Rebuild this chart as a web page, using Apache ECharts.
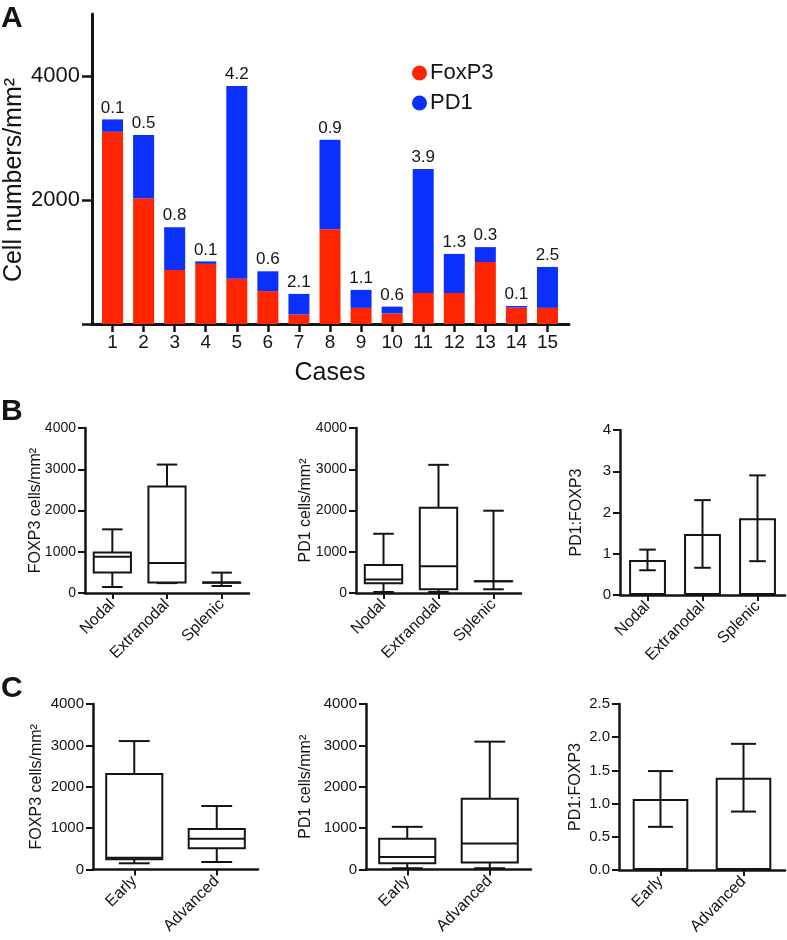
<!DOCTYPE html>
<html>
<head>
<meta charset="utf-8">
<script src="https://cdn.jsdelivr.net/npm/echarts@6/dist/echarts.min.js"></script>
<style>
html,body{margin:0;padding:0;background:#fff;}
#chart{width:787px;height:940px;}
</style>
</head>
<body>
<div id="chart"></div>
<script>
// ---------- Panel A data ----------
const cases = ['1','2','3','4','5','6','7','8','9','10','11','12','13','14','15'];
const foxp3Counts = [3100, 2030, 870, 970, 730, 530, 155, 1530, 260, 170, 500, 500, 1000, 265, 260];
const pd1Counts = [200, 1020, 690, 40, 3110, 320, 330, 1440, 290, 110, 2000, 630, 240, 25, 660];
const ratioLabels = ['0.1','0.5','0.8','0.1','4.2','0.6','2.1','0.9','1.1','0.6','3.9','1.3','0.3','0.1','2.5'];
const yTicksA = [0, 2000, 4000];
const yLabelsA = [2000, 4000];

// ---------- Panel B data ----------
const sites = ['Nodal', 'Extranodal', 'Splenic'];
// [min, q1, median, q3, max]
const foxp3BySite = [
  [146, 496, 876, 983, 1543],
  [240, 253, 730, 2579, 3114],
  [170, 250, 252, 254, 494]
];
const pd1BySite = [
  [24, 236, 326, 681, 1436],
  [24, 90, 650, 2068, 3107],
  [90, 283, 285, 287, 1995]
];
const ratioMeanBySite = [0.85, 1.48, 1.86];
const ratioErrBySite = [0.25, 0.82, 1.04];

// ---------- Panel C data ----------
const stages = ['Early', 'Advanced'];
const foxp3ByStage = [
  [150, 246, 285, 2307, 3104],
  [181, 512, 744, 978, 1534]
];
const pd1ByStage = [
  [31, 153, 305, 741, 1031],
  [31, 170, 630, 1709, 3090]
];
const ratioMeanByStage = [1.07, 1.39];
const ratioErrByStage = [0.42, 0.51];

// ---------- styling ----------
const FONT = '"Liberation Sans", Arial, Helvetica, sans-serif';
const INK = '#141414';
const RED = '#fe2500';
const BLUE = '#0b30fb';

const chart = echarts.init(document.getElementById('chart'), null, {renderer: 'canvas'});

function boxData(arr) {
  return arr.map((d, i) => [i, d[0], d[1], d[2], d[3], d[4]]);
}
function errData(means, errs) {
  return means.map((m, i) => [i, m, errs[i]]);
}
const plain = v => String(v);

function renderBox(params, api) {
  const i = api.value(0);
  const band = api.size([1, 0])[0];
  const w = band * 0.68;
  const cw = w * 0.55;
  const x = api.coord([i, api.value(1)])[0];
  const yMin = api.coord([i, api.value(1)])[1];
  const yQ1 = api.coord([i, api.value(2)])[1];
  const yMed = api.coord([i, api.value(3)])[1];
  const yQ3 = api.coord([i, api.value(4)])[1];
  const yMax = api.coord([i, api.value(5)])[1];
  const st = {stroke: INK, lineWidth: 2, fill: null};
  return {
    type: 'group',
    children: [
      {type: 'line', shape: {x1: x, y1: yQ3, x2: x, y2: yMax}, style: st},
      {type: 'line', shape: {x1: x, y1: yQ1, x2: x, y2: yMin}, style: st},
      {type: 'line', shape: {x1: x - cw / 2, y1: yMax, x2: x + cw / 2, y2: yMax}, style: st},
      {type: 'line', shape: {x1: x - cw / 2, y1: yMin, x2: x + cw / 2, y2: yMin}, style: st},
      {type: 'rect', shape: {x: x - w / 2, y: yQ3, width: w, height: yQ1 - yQ3}, style: {stroke: INK, lineWidth: 2, fill: '#fff'}},
      {type: 'line', shape: {x1: x - w / 2, y1: yMed, x2: x + w / 2, y2: yMed}, style: st}
    ]
  };
}

function renderErr(params, api) {
  const i = api.value(0);
  const m = api.value(1);
  const e = api.value(2);
  const band = api.size([1, 0])[0];
  const cw = band * 0.67 * 0.45;
  const top = api.coord([i, m + e]);
  const bot = api.coord([i, m - e]);
  const x = top[0];
  const st = {stroke: INK, lineWidth: 2};
  return {
    type: 'group',
    children: [
      {type: 'line', shape: {x1: x, y1: top[1], x2: x, y2: bot[1]}, style: st},
      {type: 'line', shape: {x1: x - cw / 2, y1: top[1], x2: x + cw / 2, y2: top[1]}, style: st},
      {type: 'line', shape: {x1: x - cw / 2, y1: bot[1], x2: x + cw / 2, y2: bot[1]}, style: st}
    ]
  };
}

function catAxis(gridIndex, cats) {
  return {
    type: 'category', gridIndex: gridIndex, data: cats,
    axisLine: {show: true, lineStyle: {color: INK, width: 2.5}},
    axisTick: {show: true, alignWithLabel: true, length: 6, lineStyle: {color: INK, width: 2}},
    axisLabel: {rotate: 45, fontSize: 16, color: INK, fontFamily: FONT, margin: 9},
    splitLine: {show: false}
  };
}
function valAxis(gridIndex, max, interval, name, nameGap, fontSize, fmt) {
  return {
    type: 'value', gridIndex: gridIndex, min: 0, max: max, interval: interval,
    name: name, nameLocation: 'middle', nameGap: nameGap, nameMoveOverlap: false,
    nameTextStyle: {fontSize: 16, color: INK, fontFamily: FONT},
    axisLine: {show: true, lineStyle: {color: INK, width: 2.5}},
    axisTick: {show: true, length: 7, lineStyle: {color: INK, width: 2}},
    axisLabel: {fontSize: fontSize, color: INK, fontFamily: FONT, margin: 9, formatter: fmt || plain},
    splitLine: {show: false}
  };
}
function grid(left, top, width, height) {
  return {left: left, top: top, width: width, height: height, containLabel: false, outerBoundsMode: 'none'};
}

const option = {
  backgroundColor: '#fff',
  animation: false,
  textStyle: {fontFamily: FONT},
  legend: {
    data: ['FoxP3', 'PD1'],
    orient: 'vertical', left: 407, top: 57,
    icon: 'circle', itemWidth: 15, itemHeight: 15, itemGap: 8,
    textStyle: {fontSize: 22, color: INK, fontFamily: FONT, padding: [0, 0, 0, -2]}
  },
  graphic: [
    {type: 'text', left: 1, top: 4, style: {text: 'A', font: 'bold 30px ' + FONT, fill: INK}},
    {type: 'text', left: 1, top: 397, style: {text: 'B', font: 'bold 30px ' + FONT, fill: INK}},
    {type: 'text', left: 1, top: 674, style: {text: 'C', font: 'bold 30px ' + FONT, fill: INK}}
  ],
  grid: [
    grid(97, 14, 466, 310),
    grid(92, 14, 477, 310),
    grid(85, 428, 164, 165),
    grid(356, 428, 165, 165),
    grid(620, 430, 165, 165),
    grid(93, 704, 165, 165.5),
    grid(366, 704, 165, 165.5),
    grid(619, 704, 166, 166)
  ],
  xAxis: [
    {
      type: 'category', gridIndex: 0, data: cases,
      name: 'Cases', nameLocation: 'middle', nameGap: 37, nameMoveOverlap: false,
      nameTextStyle: {fontSize: 25, color: INK, fontFamily: FONT},
      axisLine: {show: false},
      axisTick: {show: true, alignWithLabel: true, length: 8, lineStyle: {color: INK, width: 2.5}},
      axisLabel: {fontSize: 19, color: INK, fontFamily: FONT, margin: 9}
    },
    {
      type: 'value', gridIndex: 1, min: 0, max: 1,
      axisLine: {show: true, lineStyle: {color: INK, width: 3}},
      axisTick: {show: false}, axisLabel: {show: false}, splitLine: {show: false}
    },
    catAxis(2, sites),
    catAxis(3, sites),
    catAxis(4, sites),
    catAxis(5, stages),
    catAxis(6, stages),
    catAxis(7, stages)
  ],
  yAxis: [
    {
      type: 'value', gridIndex: 0, min: 0, max: 5000, offset: 5,
      name: 'Cell numbers/mm²', nameLocation: 'middle', nameGap: 65, nameMoveOverlap: false,
      nameTextStyle: {fontSize: 25, color: INK, fontFamily: FONT, padding: [0, 22, 0, 0]},
      axisLine: {show: true, lineStyle: {color: INK, width: 3}},
      axisTick: {show: true, length: 10, customValues: yTicksA, lineStyle: {color: INK, width: 2.5}},
      axisLabel: {fontSize: 22, color: INK, fontFamily: FONT, margin: 12, customValues: yLabelsA, formatter: plain},
      splitLine: {show: false}
    },
    {type: 'value', gridIndex: 1, min: 0, max: 1, show: false},
    valAxis(2, 4000, 1000, 'FOXP3 cells/mm²', 41, 14),
    valAxis(3, 4000, 1000, 'PD1 cells/mm²', 42, 14),
    valAxis(4, 4, 1, 'PD1:FOXP3', 35, 15),
    valAxis(5, 4000, 1000, 'FOXP3 cells/mm²', 48, 15),
    valAxis(6, 4000, 1000, 'PD1 cells/mm²', 52, 15),
    valAxis(7, 2.5, 0.5, 'PD1:FOXP3', 35, 15, v => v.toFixed(1))
  ],
  series: [
    {
      name: 'FoxP3', type: 'bar', stack: 'cells', xAxisIndex: 0, yAxisIndex: 0,
      data: foxp3Counts, barWidth: 21, itemStyle: {color: RED}
    },
    {
      name: 'PD1', type: 'bar', stack: 'cells', xAxisIndex: 0, yAxisIndex: 0,
      data: pd1Counts, barWidth: 21, itemStyle: {color: BLUE},
      label: {
        show: true, position: 'top', distance: 3,
        fontSize: 17, color: INK, fontFamily: FONT,
        formatter: p => ratioLabels[p.dataIndex]
      }
    },
    {type: 'custom', xAxisIndex: 2, yAxisIndex: 2, data: boxData(foxp3BySite), renderItem: renderBox,
      encode: {x: 0, y: [1, 2, 3, 4, 5]}},
    {type: 'custom', xAxisIndex: 3, yAxisIndex: 3, data: boxData(pd1BySite), renderItem: renderBox,
      encode: {x: 0, y: [1, 2, 3, 4, 5]}},
    {type: 'bar', xAxisIndex: 4, yAxisIndex: 4, data: ratioMeanBySite, barWidth: '67%',
      itemStyle: {color: '#fff', borderColor: INK, borderWidth: 2}},
    {type: 'custom', xAxisIndex: 4, yAxisIndex: 4, data: errData(ratioMeanBySite, ratioErrBySite), renderItem: renderErr,
      encode: {x: 0, y: [1]}, z: 5},
    {type: 'custom', xAxisIndex: 5, yAxisIndex: 5, data: boxData(foxp3ByStage), renderItem: renderBox,
      encode: {x: 0, y: [1, 2, 3, 4, 5]}},
    {type: 'custom', xAxisIndex: 6, yAxisIndex: 6, data: boxData(pd1ByStage), renderItem: renderBox,
      encode: {x: 0, y: [1, 2, 3, 4, 5]}},
    {type: 'bar', xAxisIndex: 7, yAxisIndex: 7, data: ratioMeanByStage, barWidth: '67%',
      itemStyle: {color: '#fff', borderColor: INK, borderWidth: 2}},
    {type: 'custom', xAxisIndex: 7, yAxisIndex: 7, data: errData(ratioMeanByStage, ratioErrByStage), renderItem: renderErr,
      encode: {x: 0, y: [1]}, z: 5}
  ]
};
chart.setOption(option);
</script>
</body>
</html>
